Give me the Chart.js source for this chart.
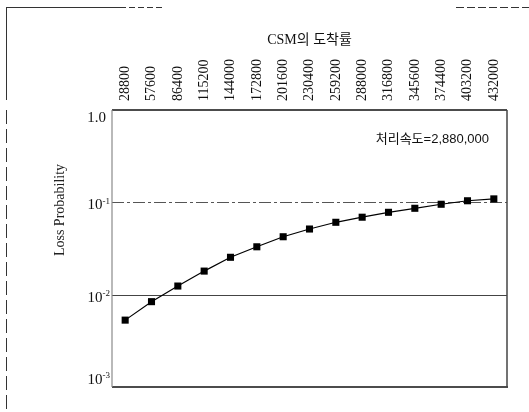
<!DOCTYPE html>
<html>
<head>
<meta charset="utf-8">
<script src="https://cdn.jsdelivr.net/npm/chart.js@4/dist/chart.umd.min.js"></script>
<style>
html,body{margin:0;padding:0;background:#fff;}
#c{display:block;}
</style>
</head>
<body>
<canvas id="c" width="529" height="412"></canvas>
<script>
// ---- data ----
const categories = ['28800','57600','86400','115200','144000','172800','201600','230400','259200','288000','316800','345600','374400','403200','432000'];
const lossProbability = [0.0053,0.0084,0.0124,0.018,0.0254,0.033,0.0424,0.0514,0.0608,0.069,0.078,0.0862,0.0953,0.104,0.109];
const yTickValues = [1, 0.1, 0.01, 0.001];
const yTickBase = ['1.0','10','10','10'];
const yTickExp = ['','-1','-2','-3'];
const xAxisTitle = 'CSM의 도착률';
const yAxisTitle = 'Loss Probability';
const annotationText = '처리속도=2,880,000';
const refLines = [0.1, 0.01];

const SERIF = "'Liberation Serif','Times New Roman','Noto Sans CJK KR',serif";

const decor = {
  id: 'decor',
  beforeDatasetsDraw(chart) {
    const {ctx, chartArea: a, scales: {y}} = chart;
    ctx.save();
    refLines.forEach((v, i) => {
      const py = Math.round(y.getPixelForValue(v)) + 0.5;
      ctx.beginPath();
      ctx.lineWidth = 1;
      if (i === 0) { ctx.strokeStyle = '#555'; ctx.setLineDash([12, 3, 3, 3]); }
      else { ctx.strokeStyle = '#444'; ctx.setLineDash([]); }
      ctx.moveTo(a.left, py); ctx.lineTo(a.right, py);
      ctx.stroke();
    });
    ctx.setLineDash([]);
    ctx.restore();
  },
  afterDraw(chart) {
    const {ctx, chartArea: a, scales: {y}} = chart;
    ctx.save();
    // frame
    ctx.lineWidth = 1.5;
    ctx.strokeStyle = '#111';
    ctx.beginPath(); ctx.moveTo(a.left, a.top); ctx.lineTo(a.right, a.top); ctx.stroke();
    ctx.beginPath(); ctx.moveTo(a.left, a.bottom); ctx.lineTo(a.right + 1, a.bottom); ctx.stroke();
    ctx.strokeStyle = '#444';
    ctx.beginPath(); ctx.moveTo(a.right, a.top); ctx.lineTo(a.right, a.bottom); ctx.stroke();
    ctx.lineWidth = 1.2;
    ctx.strokeStyle = '#8a8a8a';
    ctx.beginPath(); ctx.moveTo(a.left, a.top); ctx.lineTo(a.left, a.bottom); ctx.stroke();

    // y tick labels with superscripts
    ctx.fillStyle = '#111';
    ctx.textBaseline = 'middle';
    yTickValues.forEach((v, i) => {
      let py = y.getPixelForValue(v) + 3;
      py = Math.min(Math.max(py, a.top + 8), a.bottom - 7);
      ctx.font = '15px ' + SERIF;
      if (!yTickExp[i]) {
        ctx.textAlign = 'right';
        ctx.fillText(yTickBase[i], a.left - 6, py);
      } else {
        ctx.font = '9px ' + SERIF;
        const ew = ctx.measureText(yTickExp[i]).width;
        ctx.textAlign = 'right';
        ctx.fillText(yTickExp[i], a.left - 2, py - 4);
        ctx.font = '15px ' + SERIF;
        ctx.fillText(yTickBase[i], a.left - 2 - ew, py);
      }
    });

    // y axis title
    ctx.save();
    ctx.translate(a.left - 52, a.top + 100);
    ctx.rotate(-Math.PI / 2);
    ctx.font = '14px ' + SERIF;
    ctx.fillStyle = '#222';
    ctx.textAlign = 'center';
    ctx.textBaseline = 'middle';
    ctx.fillText(yAxisTitle, 0, 0);
    ctx.restore();

    // annotation
    ctx.font = "13px 'Liberation Sans','Noto Sans CJK KR',sans-serif";
    ctx.textAlign = 'right';
    ctx.textBaseline = 'middle';
    ctx.fillStyle = '#111';
    ctx.fillText(annotationText, a.right - 18, a.top + 29);

    // scan frame remnants
    ctx.strokeStyle = '#333';
    ctx.lineWidth = 1;
    ctx.beginPath(); ctx.moveTo(6, 7.5); ctx.lineTo(120, 7.5); ctx.stroke();
    ctx.setLineDash([6, 3]);
    ctx.beginPath(); ctx.moveTo(120, 7.5); ctx.lineTo(165, 7.5); ctx.stroke();
    ctx.setLineDash([]);
    ctx.beginPath(); ctx.moveTo(6.5, 7); ctx.lineTo(6.5, 100); ctx.stroke();
    ctx.setLineDash([14, 5]);
    ctx.beginPath(); ctx.moveTo(6.5, 110); ctx.lineTo(6.5, 412); ctx.stroke();
    ctx.setLineDash([8, 3]);
    ctx.beginPath(); ctx.moveTo(456, 7.5); ctx.lineTo(529, 7.5); ctx.stroke();
    ctx.restore();
  }
};

new Chart(document.getElementById('c'), {
  type: 'line',
  data: {
    labels: categories,
    datasets: [{
      data: lossProbability,
      borderColor: '#000',
      backgroundColor: '#000',
      borderWidth: 1.2,
      pointStyle: 'rect',
      pointRadius: 5,
      pointBorderWidth: 0,
      tension: 0,
      fill: false
    }]
  },
  options: {
    responsive: false,
    animation: false,
    devicePixelRatio: 1,
    layout: { padding: { left: 46, right: 22, top: 0, bottom: 25 } },
    plugins: { legend: { display: false }, tooltip: { enabled: false }, title: { display: false } },
    scales: {
      x: {
        type: 'category',
        position: 'top',
        offset: true,
        grid: { display: false, drawTicks: false },
        border: { display: false },
        ticks: {
          autoSkip: false,
          minRotation: 90,
          maxRotation: 90,
          padding: 9,
          labelOffset: 17,
          color: '#111',
          font: { family: SERIF, size: 14 }
        },
        title: {
          display: true,
          text: xAxisTitle,
          color: '#111',
          font: { family: SERIF, size: 14 },
          padding: { top: 32, bottom: 0 }
        },
        afterFit(s) { s.height = 110; }
      },
      y: {
        type: 'logarithmic',
        min: 0.001,
        max: 1,
        grid: { display: false, drawTicks: false },
        border: { display: false },
        ticks: { display: false },
        afterBuildTicks(s) { s.ticks = yTickValues.map(v => ({ value: v })); },
        title: { display: false },
        afterFit(s) { s.width = 66; }
      }
    }
  },
  plugins: [decor]
});
</script>
</body>
</html>
